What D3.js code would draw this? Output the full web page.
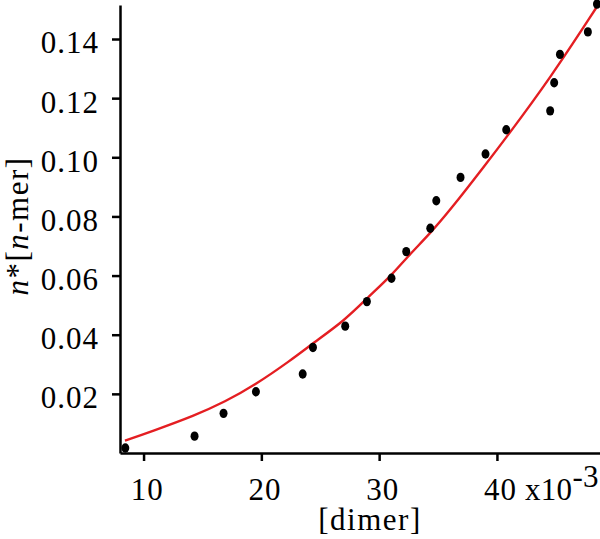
<!DOCTYPE html>
<html>
<head>
<meta charset="utf-8">
<script src="https://cdn.jsdelivr.net/npm/d3@7"></script>
<style>
    body { margin: 0; background: #fff; }
    svg { display: block; }
    text { font-family: "Liberation Serif", "Times New Roman", serif; fill: #000; }
</style>
</head>
<body>
<div id="chart"></div>
<script>
// measured points, [dimer] in units of 1e-3
var dimerVals = [8.45, 14.33, 16.79, 19.54, 23.51, 24.38, 27.12, 28.96, 31.05, 32.30,
    34.34, 34.85, 36.91, 39.03, 40.79, 44.52, 44.86, 45.35, 47.72, 48.49];
var nmerVals = [0.0017, 0.0057, 0.0134, 0.0207, 0.0267, 0.0357, 0.0429, 0.0512, 0.0591, 0.0681,
    0.0760, 0.0853, 0.0932, 0.1011, 0.1093, 0.1157, 0.1252, 0.1348, 0.1424, 0.1518];

// fitted curve
var fitDimer = [8.42, 10.68, 14.36, 16.91, 19.46, 22.45, 24.38, 27.12, 28.96, 31.09,
    32.36, 34.34, 36.04, 39.01, 40.85, 44.52, 48.49];
var fitNmer = [0.0042, 0.0073, 0.0127, 0.0173, 0.0230, 0.0312, 0.0371, 0.0450, 0.0523, 0.0602,
    0.0662, 0.0743, 0.0822, 0.0974, 0.1070, 0.1267, 0.1509];

var xTicks = [10, 20, 30, 40];
var yTicks = [0.02, 0.04, 0.06, 0.08, 0.10, 0.12, 0.14];

var width = 600;
var height = 539;
var plotLeft = 120, plotRight = 600, plotTop = 5, plotBottom = 453;

var svg = d3.select("#chart").append("svg")
    .attr("width", width)
    .attr("height", height);

var x = d3.scaleLinear().domain([8.0, 48.75]).range([plotLeft, plotRight]);
var y = d3.scaleLinear().domain([0, 0.1515]).range([plotBottom, plotTop]);

// fitted curve (b-spline smooths out reading noise)
var fitData = fitDimer.map(function (d, i) { return [d, fitNmer[i]]; });
var line = d3.line()
    .x(function (d) { return x(d[0]); })
    .y(function (d) { return y(d[1]); })
    .curve(d3.curveBasis);

svg.append("path")
    .datum(fitData)
    .attr("d", line)
    .attr("fill", "none")
    .attr("stroke", "#e41e22")
    .attr("stroke-width", 2.4);

// data points
svg.selectAll("ellipse.pt")
    .data(dimerVals)
    .enter()
    .append("ellipse")
    .attr("class", "pt")
    .attr("cx", function (d) { return x(d); })
    .attr("cy", function (d, i) { return y(nmerVals[i]); })
    .attr("rx", 4)
    .attr("ry", 4.7)
    .style("fill", "#000");

// axes
var xAxis = svg.append("g")
    .attr("transform", "translate(0," + plotBottom + ")")
    .call(d3.axisBottom(x).tickValues(xTicks).tickSize(8).tickSizeOuter(0).tickPadding(17)
        .tickFormat(d3.format("d")));

var yAxis = svg.append("g")
    .attr("transform", "translate(" + plotLeft + ",0)")
    .call(d3.axisLeft(y).tickValues(yTicks).tickSize(8).tickSizeOuter(0).tickPadding(13)
        .tickFormat(d3.format(".2f")));

[xAxis, yAxis].forEach(function (g) {
    g.select(".domain").attr("stroke", "#000").attr("stroke-width", 2.5);
    g.selectAll(".tick line").attr("stroke", "#000").attr("stroke-width", 2.5);
    g.selectAll(".tick text")
        .style("font-family", "'Liberation Serif', serif")
        .style("font-size", "31px")
        .style("letter-spacing", "1px");
});
yAxis.selectAll(".tick text").attr("dy", "0.45em");
xAxis.selectAll(".tick text").attr("dx", "0.1em");

// x10^-3 multiplier
var mult = svg.append("text")
    .attr("x", 525)
    .attr("y", 500)
    .style("font-size", "31px")
    .style("letter-spacing", "0.3px");
mult.append("tspan").text("x10");
mult.append("tspan").attr("dy", -13).text("-3");

// axis titles
svg.append("text")
    .attr("x", 370)
    .attr("y", 530)
    .attr("text-anchor", "middle")
    .style("font-size", "31px")
    .style("letter-spacing", "1.5px")
    .text("[dimer]");

var yTitle = svg.append("text")
    .attr("transform", "translate(28,226) rotate(-90)")
    .attr("text-anchor", "middle")
    .style("font-size", "31px")
    .style("letter-spacing", "1.5px");
yTitle.append("tspan").style("font-style", "italic").text("n");
yTitle.append("tspan").text("*[");
yTitle.append("tspan").style("font-style", "italic").text("n");
yTitle.append("tspan").text("-mer]");
</script>
</body>
</html>
